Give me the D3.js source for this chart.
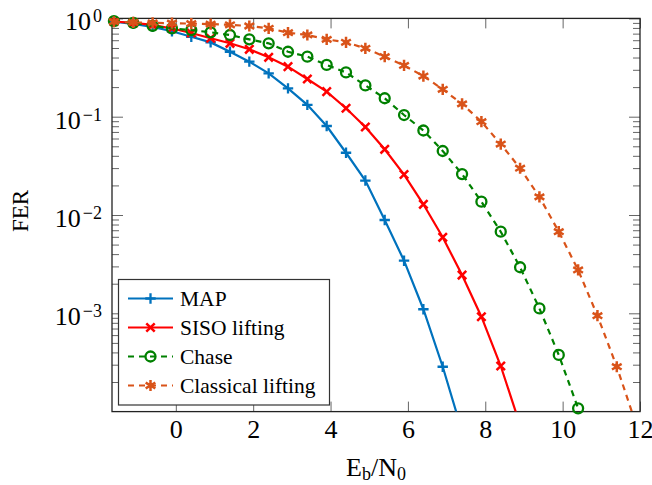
<!DOCTYPE html>
<html><head><meta charset="utf-8">
<script src="https://cdn.jsdelivr.net/npm/d3@7"></script>
<style>
html,body{margin:0;padding:0;background:#fff;}
svg{display:block;}
svg text{font-family:"Liberation Serif","Times New Roman",serif !important;}
</style>
</head><body>
<svg id="chart" width="652" height="485"></svg>
<script>
// ---- data ----
const ebn0 = [-1.6, -1.1, -0.6, -0.1, 0.4, 0.9, 1.4, 1.9, 2.4, 2.9, 3.4, 3.9, 4.4, 4.9, 5.4, 5.9, 6.4, 6.9, 7.4, 7.9, 8.4, 8.9, 9.4, 9.9, 10.4, 10.9, 11.4, 11.9];
const ferMAP = [0.925, 0.88, 0.82, 0.74, 0.65, 0.57, 0.458, 0.363, 0.276, 0.194, 0.132, 0.0804, 0.0430, 0.0224, 0.00889, 0.00343, 0.00110, 0.000286, 0.000063];
const ferSISO = [0.93, 0.90, 0.86, 0.79, 0.71, 0.628, 0.558, 0.485, 0.402, 0.323, 0.242, 0.180, 0.122, 0.0785, 0.0466, 0.0258, 0.01285, 0.00593, 0.00245, 0.000923, 0.000291, 0.000073];
const ferChase = [0.94, 0.90, 0.84, 0.79, 0.76, 0.722, 0.678, 0.612, 0.558, 0.458, 0.408, 0.336, 0.282, 0.208, 0.154, 0.104, 0.0724, 0.0448, 0.0261, 0.01366, 0.00676, 0.00294, 0.00112, 0.000377, 0.000108];
const ferClassical = [0.925, 0.91, 0.90, 0.895, 0.885, 0.875, 0.86, 0.837, 0.793, 0.716, 0.678, 0.612, 0.571, 0.496, 0.408, 0.332, 0.259, 0.190, 0.135, 0.0889, 0.0527, 0.0299, 0.0153, 0.00676, 0.00276, 0.000946, 0.000286, 0.000074];
const seriesNames = ["MAP", "SISO lifting", "Chase", "Classical lifting"];
const xTickValues = [0, 2, 4, 6, 8, 10, 12];
const yTickExponents = [0, -1, -2, -3];
const xLabelParts = ["E", "b", "/N", "0"];
const yLabel = "FER";

// ---- layout ----
const SERIF = '"Liberation Serif","Times New Roman",serif';
const L = 112, R = 640, T = 18.4, B = 411.6;
const svg = d3.select("#chart");
const x = d3.scaleLinear().domain([-1.65, 12]).range([L, R]);
const y = d3.scaleLog().domain([1e-4, 1]).range([B, T]);

const series = [
  {name: seriesNames[0], vals: ferMAP, color: "#0072BD", dash: null, mark: "plus"},
  {name: seriesNames[1], vals: ferSISO, color: "#FF0000", dash: null, mark: "x"},
  {name: seriesNames[2], vals: ferChase, color: "#008000", dash: "6,5", mark: "circle"},
  {name: seriesNames[3], vals: ferClassical, color: "#D95319", dash: "6,5", mark: "asterisk"}
];

svg.append("defs").append("clipPath").attr("id", "clip")
  .append("rect").attr("x", L).attr("y", T).attr("width", R - L).attr("height", B - T);

// ---- axes (ticks inward) ----
const minorVals = [];
[-4, -3, -2, -1].forEach(e => { for (let m = 2; m <= 9; m++) minorVals.push(m * Math.pow(10, e)); });
const majorVals = yTickExponents.map(e => Math.pow(10, e));

function styleAxis(g) {
  g.select(".domain").remove();
  g.attr("font-family", SERIF);
  g.selectAll(".tick line").attr("stroke", "#666").attr("stroke-width", 1);
}
const gx = svg.append("g").attr("transform", `translate(0,${B})`)
  .call(d3.axisBottom(x).tickValues(xTickValues).tickSize(-10).tickPadding(8).tickFormat(d3.format("d")));
styleAxis(gx);
gx.selectAll(".tick text").attr("fill", "#000").attr("dy", "0.71em").style("font-size", "26px").style("font-family", SERIF);
svg.append("g").attr("transform", `translate(0,${T})`)
  .call(d3.axisTop(x).tickValues(xTickValues).tickSize(-10).tickFormat("")).call(styleAxis);

const gy = svg.append("g").attr("transform", `translate(${L},0)`)
  .call(d3.axisLeft(y).tickValues(majorVals).tickSize(-11).tickPadding(10).tickFormat(""));
styleAxis(gy);
gy.selectAll(".tick text").each(function(d) {
  const t = d3.select(this).attr("fill", "#000").attr("dy", 11.5)
    .style("font-size", "26px").style("font-family", SERIF);
  t.text(null);
  t.append("tspan").text("10");
  const e = Math.round(Math.log10(d));
  t.append("tspan").attr("dy", -8).attr("dx", 2).style("font-size", "18px").text(e === 0 ? "0" : "\u2212" + (-e));
});
svg.append("g").attr("transform", `translate(${L},0)`)
  .call(d3.axisLeft(y).tickValues(minorVals).tickSize(-7).tickFormat("")).call(styleAxis);
svg.append("g").attr("transform", `translate(${R},0)`)
  .call(d3.axisRight(y).tickValues(majorVals).tickSize(-11).tickFormat("")).call(styleAxis);
svg.append("g").attr("transform", `translate(${R},0)`)
  .call(d3.axisRight(y).tickValues(minorVals).tickSize(-7).tickFormat("")).call(styleAxis);

svg.append("rect").attr("x", L).attr("y", T).attr("width", R - L).attr("height", B - T)
  .attr("fill", "none").attr("stroke", "#222").attr("stroke-width", 1.3);

// ---- markers ----
function drawMark(g, type, cx, cy, color) {
  if (type === "plus") {
    const s = 5.2;
    g.append("path").attr("d", `M${cx - s},${cy}H${cx + s}M${cx},${cy - s}V${cy + s}`)
      .attr("stroke", color).attr("stroke-width", 2.3).attr("fill", "none");
  } else if (type === "x") {
    const a = 4.2;
    g.append("path").attr("d", `M${cx - a},${cy - a}L${cx + a},${cy + a}M${cx - a},${cy + a}L${cx + a},${cy - a}`)
      .attr("stroke", color).attr("stroke-width", 2.5).attr("fill", "none");
  } else if (type === "circle") {
    g.append("circle").attr("cx", cx).attr("cy", cy).attr("r", 5)
      .attr("stroke", color).attr("stroke-width", 2.3).attr("fill", "none");
  } else if (type === "asterisk") {
    const s = 5.6;
    let d = "";
    [90, 30, 150].forEach(deg => {
      const r = deg * Math.PI / 180, dx = s * Math.cos(r), dy = s * Math.sin(r);
      d += `M${cx - dx},${cy - dy}L${cx + dx},${cy + dy}`;
    });
    g.append("path").attr("d", d).attr("stroke", color).attr("stroke-width", 2.5).attr("fill", "none");
  }
}

const line = d3.line().x(d => x(d[0])).y(d => y(d[1]));
series.forEach(s => {
  const pts = s.vals.map((v, i) => [ebn0[i], v]);
  svg.append("path").datum(pts).attr("d", line).attr("clip-path", "url(#clip)")
    .attr("fill", "none").attr("stroke", s.color).attr("stroke-width", 2.2)
    .attr("stroke-dasharray", s.dash);
  const mg = svg.append("g");
  pts.filter(p => p[1] >= 1e-4 && p[1] <= 1).forEach(p => drawMark(mg, s.mark, x(p[0]), y(p[1]), s.color));
});

// ---- legend ----
const lg = svg.append("g");
lg.append("rect").attr("x", 118.5).attr("y", 279.5).attr("width", 211).attr("height", 125.5)
  .attr("fill", "#fff").attr("stroke", "#333").attr("stroke-width", 1.2);
series.forEach((s, i) => {
  const yy = 298.5 + i * 29;
  lg.append("line").attr("x1", 128).attr("x2", 173).attr("y1", yy).attr("y2", yy)
    .attr("stroke", s.color).attr("stroke-width", 2.2).attr("stroke-dasharray", s.dash);
  drawMark(lg, s.mark, 150.5, yy, s.color);
  lg.append("text").attr("x", 180).attr("y", yy + 7).attr("fill", "#000")
    .style("font-size", "21.5px").style("font-family", SERIF).text(s.name);
});

// ---- axis labels ----
const xl = svg.append("text").attr("x", 376).attr("y", 476).attr("text-anchor", "middle")
  .attr("fill", "#000").style("font-size", "26px").style("font-family", SERIF);
xl.append("tspan").text(xLabelParts[0]);
xl.append("tspan").style("font-size", "18px").attr("dy", 4).text(xLabelParts[1]);
xl.append("tspan").attr("dy", -4).text(xLabelParts[2]);
xl.append("tspan").style("font-size", "18px").attr("dy", 4).text(xLabelParts[3]);

svg.append("text").attr("transform", "translate(28,211) rotate(-90)").attr("text-anchor", "middle")
  .attr("fill", "#000").style("font-size", "23px").style("font-family", SERIF).text(yLabel);
</script>
</body></html>
